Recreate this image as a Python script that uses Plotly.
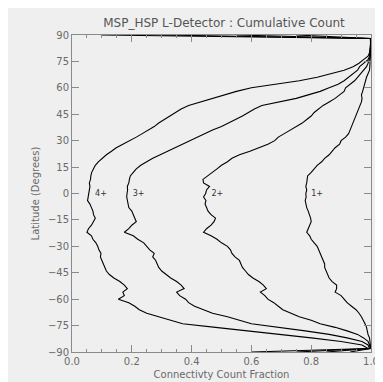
import plotly.graph_objects as go

lats = list(range(-90, 91, 2))

frac_4plus = [0.60, 0.99, 0.97, 0.90, 0.80, 0.70, 0.59, 0.48, 0.37, 0.33,
              0.29, 0.25, 0.225, 0.21, 0.19, 0.155, 0.175, 0.17, 0.185, 0.175,
              0.16, 0.14, 0.125, 0.115, 0.11, 0.105, 0.10, 0.095, 0.097, 0.09,
              0.086, 0.08, 0.07, 0.065, 0.05, 0.055, 0.065, 0.072, 0.078, 0.072,
              0.07, 0.065, 0.06, 0.052, 0.054, 0.055, 0.058, 0.060, 0.058, 0.062,
              0.063, 0.066, 0.072, 0.078, 0.088, 0.10, 0.115, 0.132, 0.148, 0.17,
              0.195, 0.215, 0.235, 0.255, 0.275, 0.29, 0.31, 0.33, 0.35, 0.365,
              0.39, 0.43, 0.47, 0.51, 0.55, 0.60, 0.68, 0.76, 0.82, 0.87,
              0.91, 0.94, 0.96, 0.975, 0.99, 0.995, 0.997, 0.998, 0.999, 0.998,
              0.10]

frac_3plus = [0.75, 0.995, 0.99, 0.97, 0.92, 0.86, 0.78, 0.69, 0.60, 0.56,
              0.52, 0.47, 0.44, 0.41, 0.39, 0.38, 0.36, 0.35, 0.375, 0.365,
              0.35, 0.33, 0.315, 0.30, 0.29, 0.285, 0.28, 0.27, 0.275, 0.26,
              0.25, 0.24, 0.22, 0.205, 0.175, 0.19, 0.20, 0.215, 0.21, 0.205,
              0.20, 0.19, 0.187, 0.185, 0.183, 0.184, 0.186, 0.185, 0.19, 0.192,
              0.195, 0.205, 0.215, 0.23, 0.25, 0.27, 0.295, 0.32, 0.34, 0.365,
              0.39, 0.415, 0.44, 0.47, 0.50, 0.525, 0.55, 0.57, 0.59, 0.61,
              0.635, 0.69, 0.75, 0.79, 0.83, 0.86, 0.89, 0.91, 0.925, 0.94,
              0.955, 0.962, 0.975, 0.99, 0.995, 0.997, 0.998, 0.999, 0.999, 0.998,
              0.30]

frac_2plus = [0.85, 0.997, 0.995, 0.99, 0.975, 0.955, 0.92, 0.88, 0.83, 0.80,
              0.76, 0.73, 0.705, 0.69, 0.675, 0.655, 0.645, 0.63, 0.65, 0.64,
              0.625, 0.605, 0.59, 0.58, 0.57, 0.565, 0.56, 0.545, 0.535, 0.53,
              0.52, 0.50, 0.485, 0.465, 0.44, 0.45, 0.465, 0.475, 0.48, 0.465,
              0.455, 0.45, 0.445, 0.448, 0.44, 0.447, 0.45, 0.46, 0.44, 0.438,
              0.455, 0.47, 0.485, 0.50, 0.52, 0.535, 0.56, 0.595, 0.625, 0.655,
              0.678, 0.69, 0.71, 0.73, 0.75, 0.77, 0.785, 0.80, 0.81, 0.825,
              0.84, 0.86, 0.88, 0.895, 0.91, 0.915, 0.93, 0.945, 0.955, 0.965,
              0.975, 0.985, 0.99, 0.995, 0.998, 0.999, 0.999, 0.999, 0.999, 0.998,
              0.55]

frac_1plus = [0.93, 0.999, 0.998, 0.997, 0.995, 0.99, 0.988, 0.985, 0.98, 0.975,
              0.968, 0.96, 0.95, 0.935, 0.92, 0.91, 0.90, 0.88, 0.885, 0.885,
              0.87, 0.86, 0.855, 0.85, 0.845, 0.845, 0.84, 0.835, 0.83, 0.825,
              0.82, 0.81, 0.80, 0.795, 0.785, 0.79, 0.795, 0.80, 0.798, 0.795,
              0.79, 0.785, 0.783, 0.78, 0.783, 0.782, 0.785, 0.782, 0.785, 0.787,
              0.788, 0.80, 0.81, 0.82, 0.835, 0.845, 0.86, 0.87, 0.88, 0.895,
              0.90, 0.915, 0.925, 0.93, 0.935, 0.94, 0.945, 0.95, 0.955, 0.96,
              0.965, 0.968, 0.97, 0.968, 0.972, 0.975, 0.98, 0.982, 0.985, 0.99,
              0.995, 0.996, 0.997, 0.998, 0.999, 0.999, 0.999, 0.999, 0.999, 0.999,
              0.75]

series = [frac_1plus, frac_2plus, frac_3plus, frac_4plus]
label_text = ["1+", "2+", "3+", "4+"]
label_x = [0.82, 0.486, 0.223, 0.097]
label_lat = [0, 0, 0, 0]

x_ticks = [0.0, 0.2, 0.4, 0.6, 0.8, 1.0]
y_ticks = [-90, -75, -60, -45, -30, -15, 0, 15, 30, 45, 60, 75, 90]

bg = "#efefef"
axcol = "#8a8a8a"
txtcol = "#6a6a6a"
font = "DejaVu Sans"

fig = go.Figure()
for s in series:
    fig.add_trace(go.Scatter(x=s, y=lats, mode="lines",
                             line=dict(color="black", width=1.1),
                             showlegend=False, hoverinfo="skip"))

fig.add_trace(go.Scatter(x=label_x, y=label_lat, mode="text", text=label_text,
                         textfont=dict(family=font, size=8, color="#333333"),
                         showlegend=False, hoverinfo="skip"))

fig.update_layout(
    width=383, height=382,
    paper_bgcolor=bg, plot_bgcolor=bg,
    margin=dict(l=64, r=15, t=27, b=34),
    title=dict(text="MSP_HSP L-Detector : Cumulative Count",
               x=(64 + 368) / 2 / 383, xanchor="center", y=1 - 15 / 382, yanchor="middle",
               font=dict(family=font, size=12, color="#555555")),
    xaxis=dict(range=[0, 1], tickvals=x_ticks, ticktext=[f"{v:.1f}" for v in x_ticks],
               ticks="inside", ticklen=7, tickcolor=axcol, tickwidth=1,
               minor=dict(ticks="inside", ticklen=3, dtick=0.05, tickcolor=axcol),
               showline=True, linecolor=axcol, linewidth=1, mirror="ticks",
               showgrid=False, zeroline=False,
               tickfont=dict(family=font, size=10, color=txtcol),
               title=dict(text="Connectivty Count Fraction", standoff=4,
                          font=dict(family=font, size=10, color=txtcol))),
    yaxis=dict(range=[-90, 90], tickvals=y_ticks,
               ticks="inside", ticklen=7, tickcolor=axcol, tickwidth=1,
               showline=True, linecolor=axcol, linewidth=1, mirror="ticks",
               showgrid=False, zeroline=False,
               tickfont=dict(family=font, size=10, color=txtcol),
               title=dict(text="Latitude (Degrees)", standoff=6,
                          font=dict(family=font, size=10, color=txtcol))),
)

fig.write_html("out.html")
